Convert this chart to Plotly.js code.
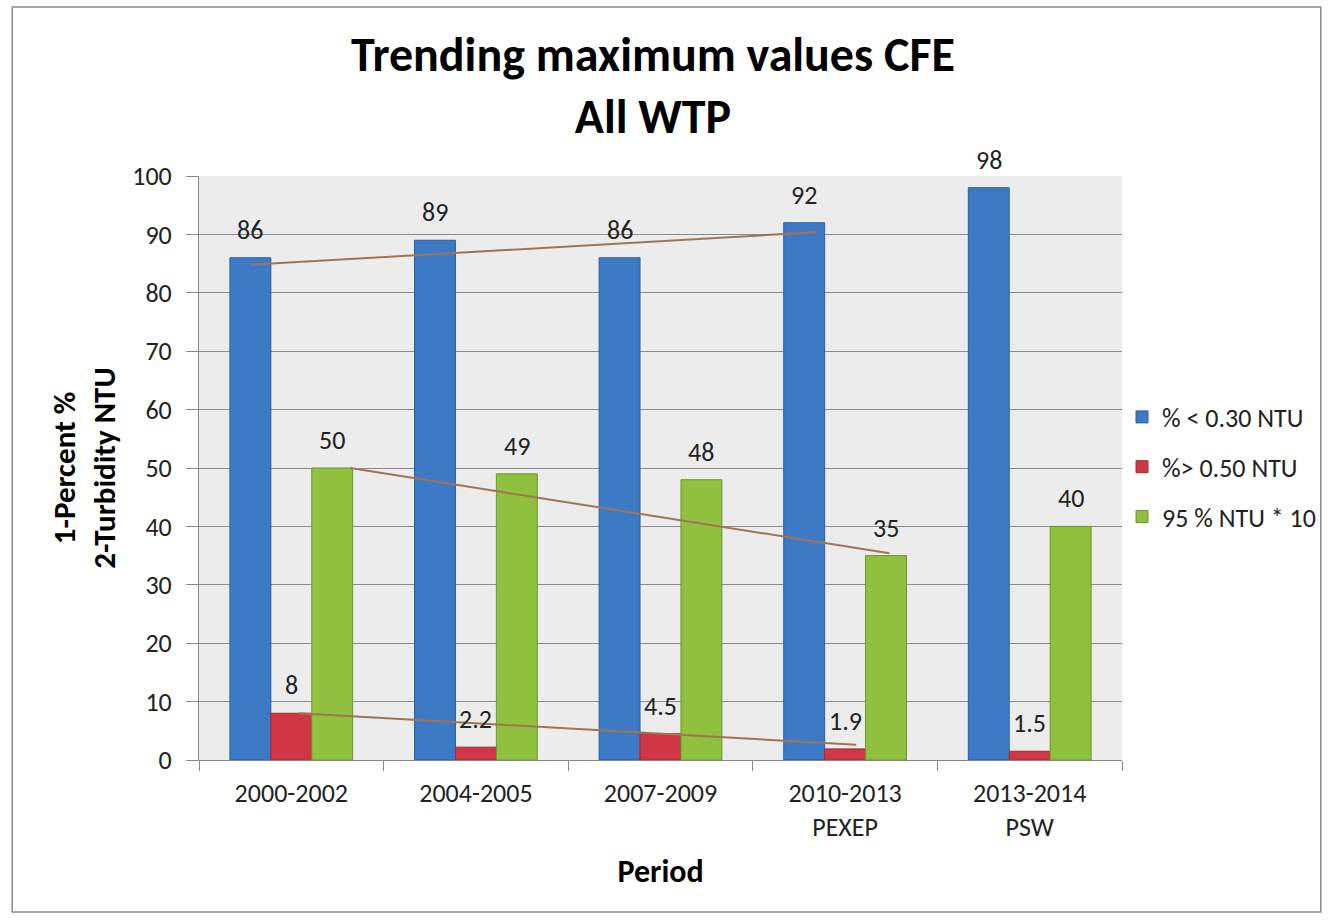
<!DOCTYPE html>
<html>
<head>
<meta charset="utf-8">
<script src="https://cdn.plot.ly/plotly-3.0.1.min.js"></script>
<style>html,body{margin:0;padding:0;background:#fff;}#chart{width:1332px;height:923px;}</style>
</head>
<body>
<div id="chart"></div>
<script>
// ---- data ----
const categories = ["2000-2002", "2004-2005", "2007-2009", "2010-2013<br>PEXEP", "2013-2014<br>PSW"];
const seriesNames = ["% < 0.30 NTU", "%> 0.50 NTU", "95 % NTU * 10"];
const pctBelow030 = [86, 89, 86, 92, 98];
const pctAbove050 = [8, 2.2, 4.5, 1.9, 1.5];
const ntu95x10 = [50, 49, 48, 35, 40];
const yTicks = [0, 10, 20, 30, 40, 50, 60, 70, 80, 90, 100];
// hand-drawn trend lines (category index position, value)
const trendBlueX = [-0.22, 2.85];
const trendBlueY = [84.8, 90.4];
const trendGreenX = [0.32, 3.24];
const trendGreenY = [50, 35.4];
const trendRedX = [0.04, 3.06];
const trendRedY = [8, 2.6];

const FONT = "Carlito, 'Liberation Sans Narrow', 'DejaVu Sans Condensed', 'Open Sans', sans-serif";
const colors = ["#3d7ac6", "#d03644", "#8fc03e"];
const lineColors = ["#2e5f9c", "#9e2a33", "#6c9530"];
const seriesVals = [pctBelow030, pctAbove050, ntu95x10];
const bargap = 0.335;
const barW = (1 - bargap) / 3;
const offsets = [-barW, 0, barW];

const traces = seriesVals.map((vals, s) => ({
  type: "bar",
  name: seriesNames[s],
  x: categories,
  y: vals,
  marker: {color: colors[s], line: {color: lineColors[s], width: 1}},
  legendgroup: "g" + s,
  hoverinfo: "y"
}));

const trendStyle = {color: "#a27456", width: 2};
[[trendBlueX, trendBlueY], [trendGreenX, trendGreenY], [trendRedX, trendRedY]].forEach(([tx, ty]) => {
  traces.push({type: "scatter", mode: "lines", x: tx, y: ty, xaxis: "x2", yaxis: "y",
    line: trendStyle, showlegend: false, hoverinfo: "skip"});
});

const annotations = [];
seriesVals.forEach((vals, s) => {
  vals.forEach((v, i) => {
    annotations.push({xref: "x2", yref: "y", x: i + offsets[s], y: v, text: String(v),
      showarrow: false, yanchor: "middle", yshift: 28,
      font: {family: FONT, size: 26, color: "#222"}});
  });
});

const L = 199, R = 1123, T = 176, B = 760;
const pw = R - L, ph = B - T;
const px2x = p => (p - L) / pw;
const py2y = p => (B - p) / ph;

const layout = {
  width: 1332, height: 923,
  margin: {l: L, r: 1332 - R, t: T, b: 923 - B},
  paper_bgcolor: "#ffffff",
  plot_bgcolor: "#ececec",
  font: {family: FONT, color: "#222"},
  title: {text: "<b>Trending maximum values CFE<br>All WTP</b>", x: 653 / 1332, xanchor: "center",
    y: 1 - 71 / 923, yanchor: "middle", yref: "container", font: {family: FONT, size: 48, color: "#000"}},
  barmode: "group",
  bargap: bargap,
  bargroupgap: 0,
  showlegend: true,
  legend: {x: px2x(1122), xanchor: "left", y: py2y(467), yanchor: "middle",
    font: {family: FONT, size: 26, color: "#222"}, traceorder: "grouped", tracegroupgap: 13,
    bgcolor: "rgba(0,0,0,0)", itemwidth: 30},
  xaxis: {type: "category", tickson: "boundaries", ticks: "outside", ticklen: 10, tickcolor: "#888",
    showline: true, linecolor: "#888", linewidth: 1, showgrid: false, ticklabelstandoff: 10,
    tickfont: {family: FONT, size: 26, color: "#222"},
    title: {text: "<b>Period</b>", font: {family: FONT, size: 32, color: "#000"}, standoff: 17}},
  xaxis2: {overlaying: "x", range: [-0.5, 4.5], visible: false, fixedrange: true},
  yaxis: {range: [0, 100], tickvals: yTicks, ticks: "outside", ticklen: 12, tickcolor: "#888",
    showline: true, linecolor: "#888", linewidth: 1, gridcolor: "#8c8c8c", gridwidth: 1, zeroline: false,
    ticklabelstandoff: 9,
    tickfont: {family: FONT, size: 26, color: "#222"},
    title: {text: "<b>1-Percent %<br>2-Turbidity NTU</b>", font: {family: FONT, size: 31, color: "#000"}, standoff: 7}},
  annotations: annotations,
  shapes: [{type: "rect", xref: "paper", yref: "paper", x0: px2x(12), x1: px2x(1322), y0: py2y(912), y1: py2y(7),
    line: {color: "#8a8a8a", width: 1.5}, fillcolor: "rgba(0,0,0,0)", layer: "below"}]
};

Plotly.newPlot("chart", traces, layout, {displayModeBar: false, staticPlot: true});
</script>
</body>
</html>
